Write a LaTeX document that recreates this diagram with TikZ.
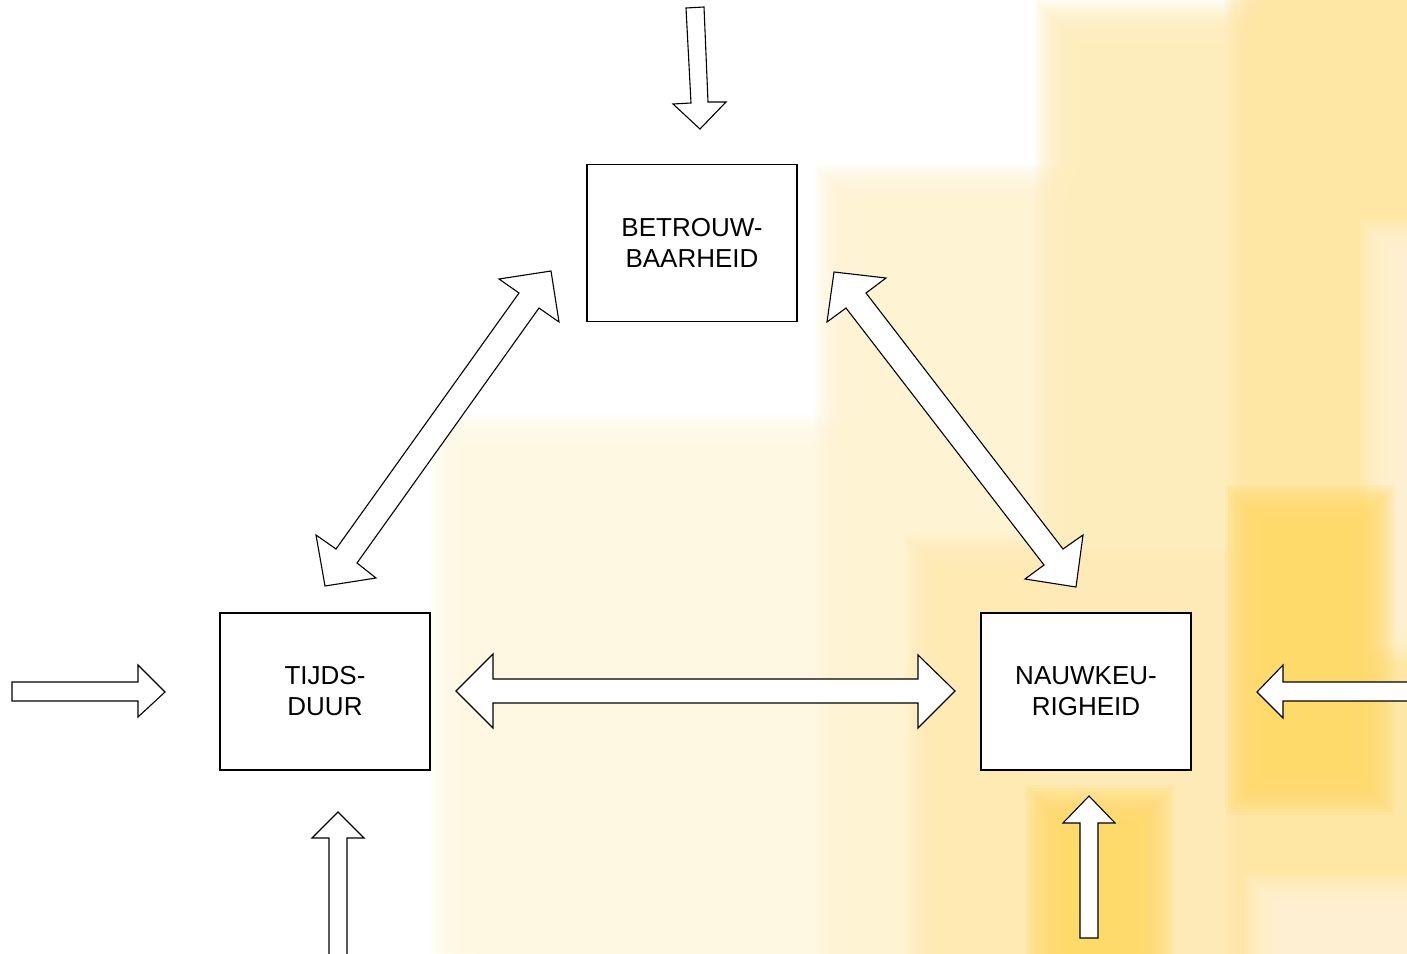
\documentclass[tikz,border=0pt]{standalone}
\usepackage{fontspec}
\setmainfont{Liberation Sans}
\definecolor{bgA}{HTML}{FEF8E2}
\definecolor{bgB}{HTML}{FEF3D2}
\definecolor{bgC}{HTML}{FEEDBC}
\definecolor{bgD}{HTML}{FFE6A4}
\definecolor{bgE}{HTML}{FFDA6A}
\definecolor{bgF}{HTML}{FEEAB2}
\definecolor{bgL}{HTML}{FEF4D8}
\newcommand\bgblob[5]{\foreach \k in {0,...,15}{\fill[#1,opacity=0.17] ({#2+\k*3},{#3+\k*3}) rectangle ({#4-\k*3},{#5-\k*3});}}
\tikzset{
  blockarrow/.style={draw=black, fill=white, line width=0.55pt, line join=miter},
  qualbox/.style={draw=black, fill=white, line width=0.55pt, minimum width=105pt, minimum height=78.5pt, inner sep=0pt, align=center, font=\fontsize{13}{15.5}\selectfont}
}
\begin{document}
\begin{tikzpicture}[x=0.5pt,y=-0.5pt]
\useasboundingbox (0,0) rectangle (1407,953);
\fill[white] (0,0) rectangle (1407,953);
\begin{scope}
\clip (0,0) rectangle (1407,953);
\bgblob{bgA}{430}{415}{1460}{1000}
\bgblob{bgB}{815}{165}{1460}{1000}
\bgblob{bgF}{905}{535}{1270}{1000}
\bgblob{bgC}{1035}{0}{1460}{1000}
\bgblob{bgD}{1225}{-50}{1460}{1000}
\bgblob{bgL}{1360}{220}{1460}{660}
\bgblob{bgE}{1225}{485}{1395}{815}
\bgblob{bgE}{1025}{785}{1175}{1000}
\bgblob{bgL}{1245}{875}{1460}{1000}
\end{scope}

% boxes
\node[qualbox] (betr) at (692,243) {BETROUW-\\BAARHEID};
\node[qualbox] (tijd) at (325,691.5) {TIJDS-\\DUUR};
\node[qualbox] (nauw) at (1086,691.5) {NAUWKEU-\\RIGHEID};

% top input arrow
\draw[blockarrow] (686,8) -- (704,7) -- (708,102) -- (726,102) -- (700,129) -- (673,104) -- (691,103) -- cycle;
% diagonal double arrow left
\draw[blockarrow] (325,586) -- (316,535) -- (336,549) -- (519,293) -- (499,279) -- (551,271) -- (559,322) -- (539,308) -- (357,563) -- (376,578) -- cycle;
% diagonal double arrow right
\draw[blockarrow] (834,272) -- (886,278) -- (866,293) -- (1063,549) -- (1083,535) -- (1076,587) -- (1025,579) -- (1044,565) -- (846,308) -- (827,322) -- cycle;
% horizontal double arrow
\draw[blockarrow] (456,691) -- (493,654) -- (493,679) -- (918,679) -- (918,655) -- (955,691) -- (918,728) -- (918,703) -- (493,703) -- (493,728) -- cycle;
% left input arrow
\draw[blockarrow] (12,682) -- (138,682) -- (138,665) -- (165,692) -- (138,717) -- (138,701) -- (12,701) -- cycle;
% right input arrow
\draw[blockarrow] (1420,682) -- (1283,682) -- (1283,665) -- (1257,692) -- (1283,718) -- (1283,701) -- (1420,701);
% bottom-left input arrow
\draw[blockarrow] (329,965) -- (329,838) -- (312,838) -- (338,812) -- (364,838) -- (347,838) -- (347,965);
% bottom-right input arrow
\draw[blockarrow] (1080,938) -- (1080,823) -- (1063,823) -- (1089,796) -- (1115,823) -- (1098,823) -- (1098,938) -- cycle;
\end{tikzpicture}
\end{document}
